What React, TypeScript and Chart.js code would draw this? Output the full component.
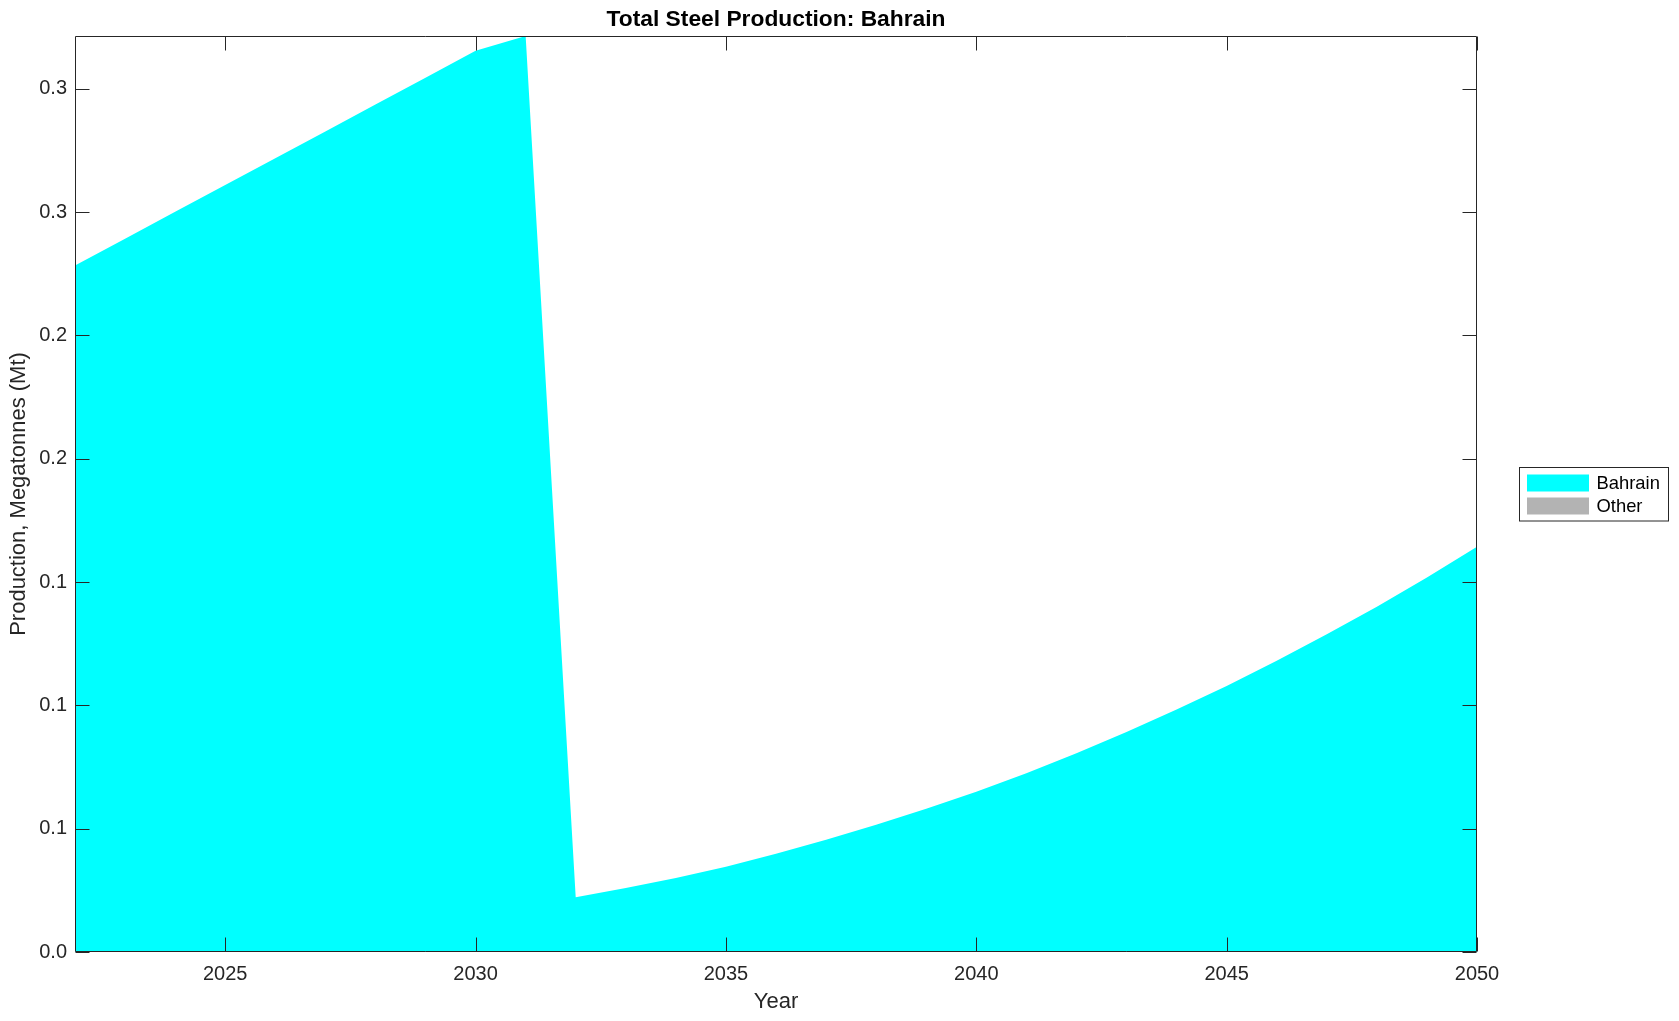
import React, { useEffect, useRef } from 'react';
import { Chart, registerables } from 'chart.js';

Chart.register(...registerables);

const chartTitle = 'Total Steel Production: Bahrain';
const xAxisTitle = 'Year';
const yAxisTitle = 'Production, Megatonnes (Mt)';

const years = [
  2022, 2023, 2024, 2025, 2026, 2027, 2028, 2029, 2030, 2031,
  2032, 2033, 2034, 2035, 2036, 2037, 2038, 2039, 2040, 2041,
  2042, 2043, 2044, 2045, 2046, 2047, 2048, 2049, 2050,
];

const bahrain = [
  0.2783, 0.2892, 0.3001, 0.3110, 0.3218, 0.3327, 0.3436, 0.3545, 0.3654, 0.3714,
  0.0222, 0.0259, 0.0300, 0.0346, 0.0398, 0.0455, 0.0516, 0.0581, 0.0650, 0.0725,
  0.0806, 0.0892, 0.0983, 0.1079, 0.1181, 0.1288, 0.1400, 0.1518, 0.1643,
];

const other = [
  0, 0, 0, 0, 0, 0, 0, 0, 0, 0,
  0, 0, 0, 0, 0, 0, 0, 0, 0, 0,
  0, 0, 0, 0, 0, 0, 0, 0, 0,
];

const seriesNames = ['Bahrain', 'Other'];
const seriesColors = ['#00ffff', '#b3b3b3'];

const xTicks = [2025, 2030, 2035, 2040, 2045, 2050];
const yTicks = [0, 0.05, 0.1, 0.15, 0.2, 0.25, 0.3, 0.35];
const yTickLabels = ['0.0', '0.1', '0.1', '0.1', '0.2', '0.2', '0.3', '0.3'];

const xMin = 2022;
const xMax = 2050;
const yMin = 0;
const yMax = 0.3714;

const FONT = '"Liberation Sans", Helvetica, Arial, sans-serif';
const AXIS_COLOR = '#262626';

const framePlugin = {
  id: 'matlabFrame',
  afterDraw(chart: any) {
    const { ctx, chartArea } = chart;
    const xs = chart.scales.x;
    const ys = chart.scales.y;
    const l = Math.round(chartArea.left) + 0.5;
    const r = Math.round(chartArea.right) - 0.5;
    const t = Math.round(chartArea.top) + 0.5;
    const b = Math.round(chartArea.bottom) - 0.5;
    const tick = 14;
    ctx.save();
    ctx.strokeStyle = AXIS_COLOR;
    ctx.lineWidth = 1;
    ctx.beginPath();
    ctx.rect(l, t, r - l, b - t);
    ctx.stroke();
    ctx.beginPath();
    xTicks.forEach((v) => {
      const px = Math.round(xs.getPixelForValue(v)) + 0.5;
      ctx.moveTo(px, b);
      ctx.lineTo(px, b - tick);
      ctx.moveTo(px, t);
      ctx.lineTo(px, t + tick);
    });
    yTicks.forEach((v) => {
      const py = Math.round(ys.getPixelForValue(v)) + 0.5;
      ctx.moveTo(l, py);
      ctx.lineTo(l + tick, py);
      ctx.moveTo(r, py);
      ctx.lineTo(r - tick, py);
    });
    ctx.stroke();

    // title
    ctx.fillStyle = '#000000';
    ctx.font = `bold 22.8px ${FONT}`;
    ctx.textAlign = 'center';
    ctx.textBaseline = 'middle';
    ctx.fillText(chartTitle, (chartArea.left + chartArea.right) / 2, 19.5);

    // legend
    const bx = 1519.5;
    const by = 467.5;
    const bw = 149;
    const bh = 53.5;
    ctx.fillStyle = '#ffffff';
    ctx.fillRect(bx, by, bw, bh);
    ctx.strokeStyle = AXIS_COLOR;
    ctx.strokeRect(bx, by, bw, bh);
    const rowY = [483, 506];
    chart.data.datasets.forEach((ds: any, i: number) => {
      ctx.fillStyle = ds.backgroundColor;
      ctx.fillRect(1527, rowY[i] - 8.5, 62, 17);
      ctx.fillStyle = '#000000';
      ctx.font = `18.4px ${FONT}`;
      ctx.textAlign = 'left';
      ctx.textBaseline = 'middle';
      ctx.fillText(ds.label, 1596.5, rowY[i] + 1);
    });
    ctx.restore();
  },
};

export default function App() {
  const canvasRef = useRef<HTMLCanvasElement | null>(null);

  useEffect(() => {
    const canvas = canvasRef.current;
    if (!canvas) return;
    const seriesData = [bahrain, other];
    const chart = new Chart(canvas, {
      type: 'line',
      data: {
        datasets: seriesData.map((vals, i) => ({
          label: seriesNames[i],
          data: years.map((yr, j) => ({ x: yr, y: vals[j] })),
          backgroundColor: seriesColors[i],
          borderColor: 'rgba(0,0,0,0)',
          borderWidth: 0,
          pointRadius: 0,
          pointHoverRadius: 0,
          tension: 0,
          fill: 'origin',
        })),
      },
      options: {
        animation: false,
        responsive: false,
        devicePixelRatio: 1,
        events: [],
        layout: { padding: { top: 36, right: 202, left: 0, bottom: 0 } },
        plugins: {
          legend: { display: false },
          title: { display: false },
          tooltip: { enabled: false },
        },
        scales: {
          x: {
            type: 'linear',
            min: xMin,
            max: xMax,
            afterBuildTicks: (s: any) => {
              s.ticks = xTicks.map((v) => ({ value: v }));
            },
            afterFit: (s: any) => {
              s.height = 69;
            },
            grid: { display: false, drawTicks: false },
            border: { display: false },
            ticks: {
              autoSkip: false,
              maxRotation: 0,
              padding: 10,
              color: AXIS_COLOR,
              font: { family: FONT, size: 20 },
              callback: (v: any) => String(v),
            },
            title: {
              display: true,
              text: xAxisTitle,
              color: AXIS_COLOR,
              font: { family: FONT, size: 22 },
              padding: { top: 0, bottom: 6 },
            },
          },
          y: {
            type: 'linear',
            min: yMin,
            max: yMax,
            afterBuildTicks: (s: any) => {
              s.ticks = yTicks.map((v) => ({ value: v }));
            },
            afterFit: (s: any) => {
              s.width = 75;
            },
            grid: { display: false, drawTicks: false },
            border: { display: false },
            ticks: {
              autoSkip: false,
              padding: 8,
              color: AXIS_COLOR,
              font: { family: FONT, size: 20 },
              callback: (_v: any, i: number) => yTickLabels[i],
            },
            title: {
              display: true,
              text: yAxisTitle,
              color: AXIS_COLOR,
              font: { family: FONT, size: 22 },
              padding: { top: 6, bottom: 0 },
            },
          },
        },
      },
      plugins: [framePlugin],
    });
    return () => chart.destroy();
  }, []);

  return (
    <div style={{ position: 'absolute', left: 0, top: 0, width: 1679, height: 1021, background: '#ffffff' }}>
      <canvas ref={canvasRef} width={1679} height={1021} style={{ display: 'block' }} />
    </div>
  );
}
